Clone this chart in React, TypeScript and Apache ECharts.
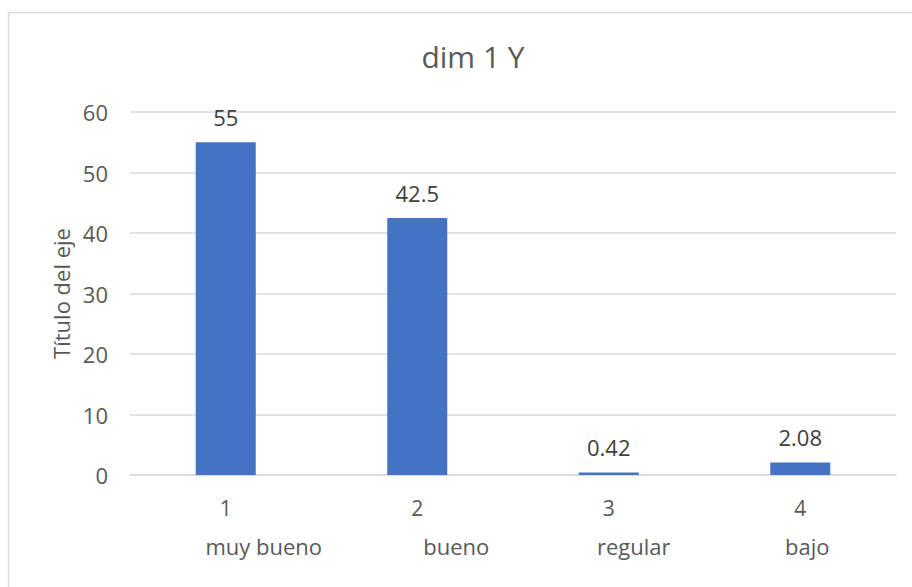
import React, { useEffect, useRef } from 'react';
import * as echarts from 'echarts';

const titleText = 'dim 1 Y';
const yAxisTitle = 'Título del eje';
const categoryNumbers = ['1', '2', '3', '4'];
const categoryNames = ['muy bueno', 'bueno', 'regular', 'bajo'];
const values = [55, 42.5, 0.42, 2.08];
const yMin = 0;
const yMax = 60;
const yStep = 10;

// horizontal shift (px) of the second-level labels relative to category centre
const nameShift = [38, 39, 25, 7];

const FONT = '"Open Sans", "Noto Sans", sans-serif';
const GRAY = '#595959';

export default function App() {
  const ref = useRef<HTMLDivElement>(null);
  useEffect(() => {
    if (!ref.current) return;
    const chart = echarts.init(ref.current, null, { renderer: 'svg' });
    chart.setOption({
      animation: false,
      backgroundColor: '#ffffff',
      textStyle: { fontFamily: FONT },
      title: {
        text: titleText,
        left: 468,
        top: 36,
        textAlign: 'center',
        textStyle: { fontFamily: FONT, fontSize: 30, fontWeight: 'normal', color: GRAY },
      },
      graphic: [
        {
          type: 'rect',
          shape: { x: 8.5, y: 12.5, width: 940, height: 620 },
          style: { fill: 'none', stroke: '#d9d9d9', lineWidth: 1.5 },
          silent: true,
          z: -1,
        },
      ],
      grid: { left: 130, right: 16, top: 112, bottom: 112, containLabel: false },
      xAxis: [
        {
          type: 'category',
          data: categoryNumbers,
          position: 'bottom',
          axisLine: { show: true, lineStyle: { color: '#d9d9d9', width: 1.5 } },
          axisTick: { show: false },
          axisLabel: { margin: 22, fontSize: 21, color: GRAY, fontFamily: FONT },
        },
        {
          type: 'category',
          data: categoryNames.map((n, i) => ({
            value: n,
            textStyle: { padding: [0, 0, 0, nameShift[i] * 2] },
          })),
          position: 'bottom',
          axisLine: { show: false },
          axisTick: { show: false },
          splitLine: { show: false },
          axisLabel: { margin: 60, fontSize: 22, color: GRAY, fontFamily: FONT },
        },
      ],
      yAxis: {
        type: 'value',
        min: yMin,
        max: yMax,
        interval: yStep,
        name: yAxisTitle,
        nameLocation: 'middle',
        nameGap: 56,
        nameTextStyle: { fontSize: 22, color: GRAY, fontFamily: FONT },
        axisLine: { show: false },
        axisTick: { show: false },
        axisLabel: { margin: 22, fontSize: 22, color: GRAY, fontFamily: FONT },
        splitLine: { lineStyle: { color: '#d9d9d9', width: 1.5 } },
      },
      series: [
        {
          type: 'bar',
          data: values,
          xAxisIndex: 0,
          barWidth: 60,
          itemStyle: { color: '#4472c4' },
          label: {
            show: true,
            position: 'top',
            distance: 14,
            fontSize: 22,
            color: '#404040',
            fontFamily: FONT,
          },
        },
      ],
    });
    return () => chart.dispose();
  }, []);
  return (
    <div
      ref={ref}
      style={{ position: 'absolute', left: 0, top: 0, width: 912, height: 587 }}
    />
  );
}
